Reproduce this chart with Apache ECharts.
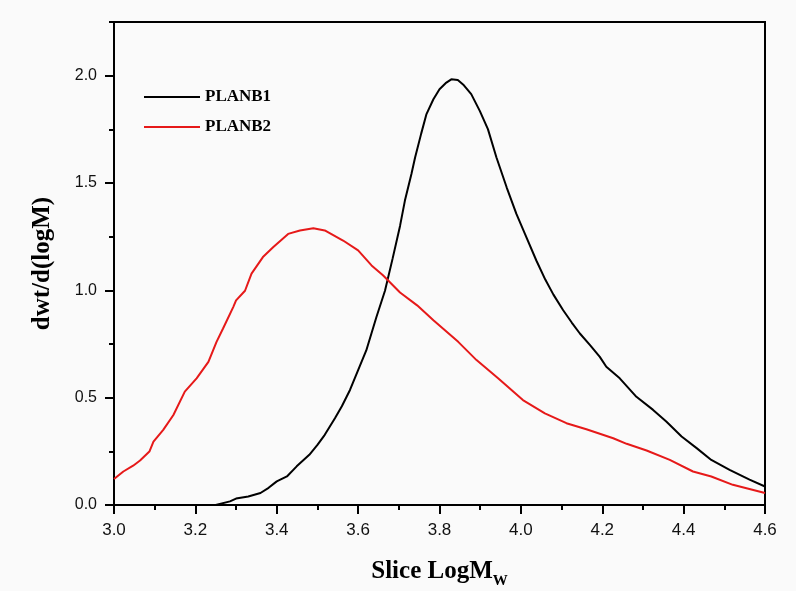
<!DOCTYPE html>
<html>
<head>
<meta charset="utf-8">
<script src="https://cdn.jsdelivr.net/npm/echarts@6/dist/echarts.min.js"></script>
<style>
html,body{margin:0;padding:0;background:#fafafa;}
#chart{width:796px;height:591px;}
</style>
</head>
<body>
<div id="chart"></div>
<script>
const seriesNames = ['PLANB1', 'PLANB2'];
const b1X = [3.25,3.285,3.30,3.33,3.36,3.38,3.40,3.425,3.449,3.48,3.50,3.518,3.543,3.56,3.58,3.60,3.62,3.645,3.666,3.685,3.703,3.715,3.731,3.74,3.755,3.768,3.785,3.80,3.815,3.829,3.845,3.86,3.878,3.899,3.919,3.94,3.965,3.989,4.01,4.038,4.06,4.08,4.104,4.125,4.145,4.17,4.194,4.21,4.243,4.284,4.325,4.358,4.395,4.432,4.468,4.513,4.562,4.6];
const b1Y = [0.0,0.017,0.03,0.04,0.056,0.08,0.11,0.133,0.18,0.234,0.28,0.327,0.404,0.46,0.536,0.628,0.72,0.876,0.998,1.15,1.30,1.418,1.542,1.619,1.73,1.821,1.89,1.937,1.965,1.983,1.98,1.955,1.914,1.836,1.751,1.619,1.48,1.356,1.263,1.139,1.05,0.98,0.907,0.85,0.799,0.745,0.69,0.644,0.59,0.504,0.443,0.388,0.319,0.265,0.21,0.164,0.118,0.086];
const b2X = [3.0,3.023,3.047,3.064,3.087,3.097,3.121,3.146,3.174,3.203,3.232,3.252,3.268,3.293,3.30,3.322,3.338,3.366,3.391,3.428,3.457,3.49,3.518,3.563,3.60,3.633,3.661,3.703,3.745,3.785,3.846,3.891,3.944,4.005,4.059,4.112,4.161,4.227,4.26,4.309,4.366,4.423,4.468,4.521,4.6];
const b2Y = [0.121,0.156,0.183,0.207,0.249,0.295,0.35,0.419,0.528,0.59,0.667,0.76,0.822,0.922,0.953,0.998,1.078,1.155,1.201,1.263,1.279,1.289,1.279,1.232,1.186,1.116,1.07,0.99,0.93,0.861,0.76,0.675,0.59,0.489,0.427,0.381,0.353,0.311,0.285,0.254,0.21,0.156,0.133,0.094,0.056];
const yMajorTicks = [0, 0.5, 1.0, 1.5, 2.0];
const yMinorTicks = [0.25, 0.75, 1.25, 1.75, 2.25];
const xTitle = 'Slice LogM';
const xTitleSub = 'W';
const yTitle = 'dwt/d(logM)';

function pairs(xs, ys){ return xs.map((x,i)=>[x, ys[i]]); }

const chart = echarts.init(document.getElementById('chart'), null, {renderer:'canvas'});
const serifBold = {fontFamily:'Liberation Serif', fontWeight:'bold', color:'#000'};
chart.setOption({
  backgroundColor:'#fafafa',
  animation:false,
  grid:{left:114, top:22, right:31, bottom:86, show:true, borderColor:'#000', borderWidth:2, backgroundColor:'transparent', containLabel:false, outerBoundsMode:'none'},
  legend:{
    orient:'vertical', left:139, top:82, itemWidth:56, itemHeight:2, itemGap:10,
    data:seriesNames.map(n=>({name:n, icon:'rect'})),
    textStyle:Object.assign({fontSize:17, lineHeight:20}, serifBold)
  },
  xAxis:{
    type:'value', min:3.0, max:4.6, interval:0.2,
    name: xTitle + '{s|' + xTitleSub + '}', nameLocation:'middle', nameGap:49,
    nameTextStyle:Object.assign({fontSize:25, rich:{s:{fontSize:15, fontFamily:'Liberation Serif', fontWeight:'bold', color:'#000', verticalAlign:'bottom', padding:[20,0,0,0]}}}, serifBold),
    axisLine:{show:true, lineStyle:{color:'#000', width:2}},
    axisTick:{show:true, inside:false, length:9, lineStyle:{color:'#000', width:2}},
    minorTick:{show:true, splitNumber:2, length:5, lineStyle:{color:'#000', width:2}},
    axisLabel:{margin:17, fontSize:17, fontFamily:'Liberation Sans', color:'#111', formatter:v=>v.toFixed(1)},
    splitLine:{show:false}
  },
  yAxis:[{
    type:'value', min:0, max:2.25, interval:0.5, position:'left',
    name:yTitle, nameLocation:'middle', nameGap:59, nameRotate:90,
    nameTextStyle:Object.assign({fontSize:25}, serifBold),
    axisLine:{show:true, lineStyle:{color:'#000', width:2}},
    axisTick:{show:true, length:9, customValues:yMajorTicks, lineStyle:{color:'#000', width:2}},
    axisLabel:{margin:17, fontSize:16, fontFamily:'Liberation Sans', color:'#111', customValues:yMajorTicks, formatter:v=>v.toFixed(1)},
    splitLine:{show:false}
  },{
    type:'value', min:0, max:2.25, interval:0.5, position:'left',
    axisLine:{show:false},
    axisTick:{show:true, length:5, customValues:yMinorTicks, lineStyle:{color:'#000', width:2}},
    axisLabel:{show:false},
    splitLine:{show:false}
  }],
  series:[{
    name:seriesNames[0], type:'line', data:pairs(b1X,b1Y), symbol:'none', smooth:false,
    lineStyle:{color:'#000', width:2}, itemStyle:{color:'#000'}
  },{
    name:seriesNames[1], type:'line', data:pairs(b2X,b2Y), symbol:'none', smooth:false,
    lineStyle:{color:'#e61919', width:2}, itemStyle:{color:'#e61919'}
  }]
});
</script>
</body>
</html>
